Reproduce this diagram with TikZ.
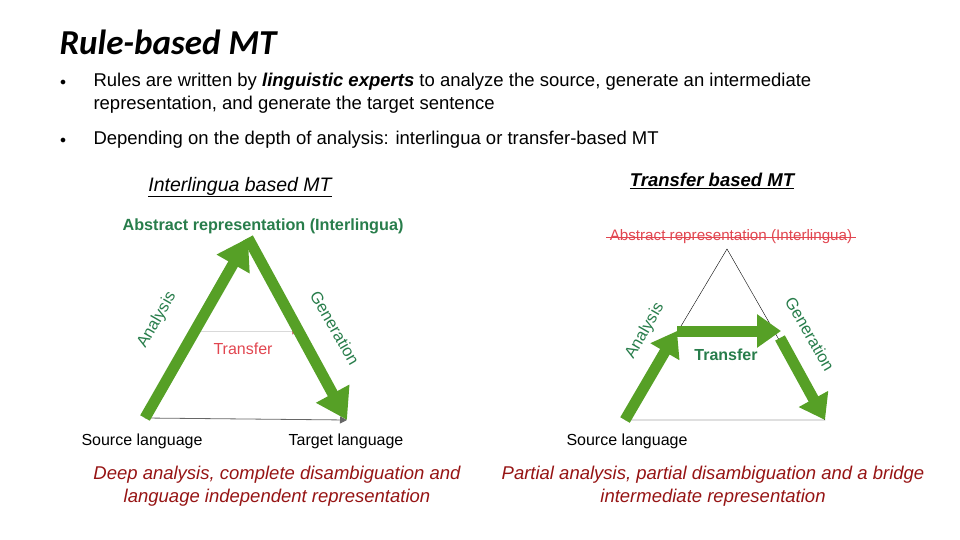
\documentclass[tikz,border=0pt]{standalone}
\usepackage{fontspec}
\setmainfont{Liberation Sans}
\newfontfamily\titlefont{Carlito}
\usetikzlibrary{arrows.meta}
\definecolor{agreen}{RGB}{86,160,38}
\definecolor{tgreen}{RGB}{40,125,75}
\definecolor{dred}{RGB}{150,20,20}
\definecolor{lred}{RGB}{225,70,80}
\tikzset{
  big/.style={draw=agreen,line width=11pt,-{Triangle[length=30pt,width=36pt]}},
  mid/.style={draw=agreen,line width=11pt,-{Triangle[length=24pt,width=32pt]}},
  lbl/.style={font=\fontsize{16.5}{18}\selectfont,text=tgreen},
  txt/.style={font=\fontsize{18.5}{23}\selectfont,anchor=north west,align=left},
  captxt/.style={font=\fontsize{18.5}{23}\selectfont\itshape,text=dred,align=center},
  thinline/.style={draw=black,line width=0.4pt}
}
\begin{document}
\begin{tikzpicture}[x=1pt,y=-1pt]
\useasboundingbox (0,0) rectangle (960,540);
\node[anchor=west,font=\titlefont\fontsize{35}{38}\selectfont\itshape\bfseries] (title) at (56,42) {Rule-based MT};
\node[font=\fontsize{13}{13}\selectfont] (b1) at (63,83) {$\bullet$};
\node[font=\fontsize{13}{13}\selectfont] (b2) at (63,141) {$\bullet$};
\node[txt] (t1) at (90,70) {Rules are written by \textit{\textbf{linguistic experts}} to analyze the source, generate an intermediate\\representation, and generate the target sentence};
\node[txt] (t2) at (90,128) {Depending on the depth of analysis: interlingua or transfer-based MT};
\node[font=\fontsize{19.5}{20}\selectfont\itshape] (h1) at (240,187) {\underline{Interlingua based MT}};
\node[font=\fontsize{18.5}{20}\selectfont\itshape\bfseries] (h2) at (712,181) {\underline{Transfer based MT}};
% left triangle
\coordinate (ls) at (145,418); \coordinate (la) at (248,238); \coordinate (lt) at (347,420);
\node[font=\fontsize{16.2}{18}\selectfont\bfseries,text=tgreen] (labs) at (263,226) {Abstract representation (Interlingua)};
\draw[line width=0.8pt,draw=black!60,-{Triangle[length=7pt,width=7pt]}] (ls) -- (lt);
\draw[line width=0.4pt,draw=black!15,-{Triangle[length=7pt,width=8pt,fill=lred]}] (200,331) -- (299,331);
\node[font=\fontsize{16}{18}\selectfont,text=lred] (ltr) at (243,349) {Transfer};
\draw[big] (ls) -- (la);
\draw[big] (la) -- (lt);
\node[lbl,rotate=60] (lan) at (157,320) {Analysis};
\node[lbl,rotate=-60] (lgen) at (335,328) {Generation};
\node[font=\fontsize{16}{18}\selectfont] (lsl) at (142,441) {Source language};
\node[font=\fontsize{16}{18}\selectfont] (ltl) at (346,441) {Target language};
% right triangle
\coordinate (rs) at (625,420); \coordinate (ra) at (727,249); \coordinate (rt) at (825,420);
\coordinate (r1) at (677,331); \coordinate (r2) at (781,331); \coordinate (r3) at (780,338);
\node[font=\fontsize{15.2}{17}\selectfont,text=lred] (rabs) at (731,237) {Abstract representation (Interlingua)};
\draw[lred,line width=0.7pt] (rabs.west) -- (rabs.east);
\draw[thinline] (rs) -- (ra) -- (rt) -- (rs);
\draw[mid] (rs) -- (r1);
\draw[mid] (r1) -- (r2);
\draw[mid] (r3) -- (rt);
\node[lbl,rotate=60] (ran) at (645,331) {Analysis};
\node[lbl,rotate=-60] (rgen) at (810,334) {Generation};
\node[font=\fontsize{16}{18}\selectfont\bfseries,text=tgreen] (rtr) at (726,355) {Transfer};
\node[font=\fontsize{16}{18}\selectfont] (rsl) at (627,441) {Source language};
% captions
\node[captxt] (c1) at (277,486) {Deep analysis, complete disambiguation and\\language independent representation};
\node[captxt] (c2) at (713,486) {Partial analysis, partial disambiguation and a bridge\\intermediate representation};
\end{tikzpicture}
\end{document}
